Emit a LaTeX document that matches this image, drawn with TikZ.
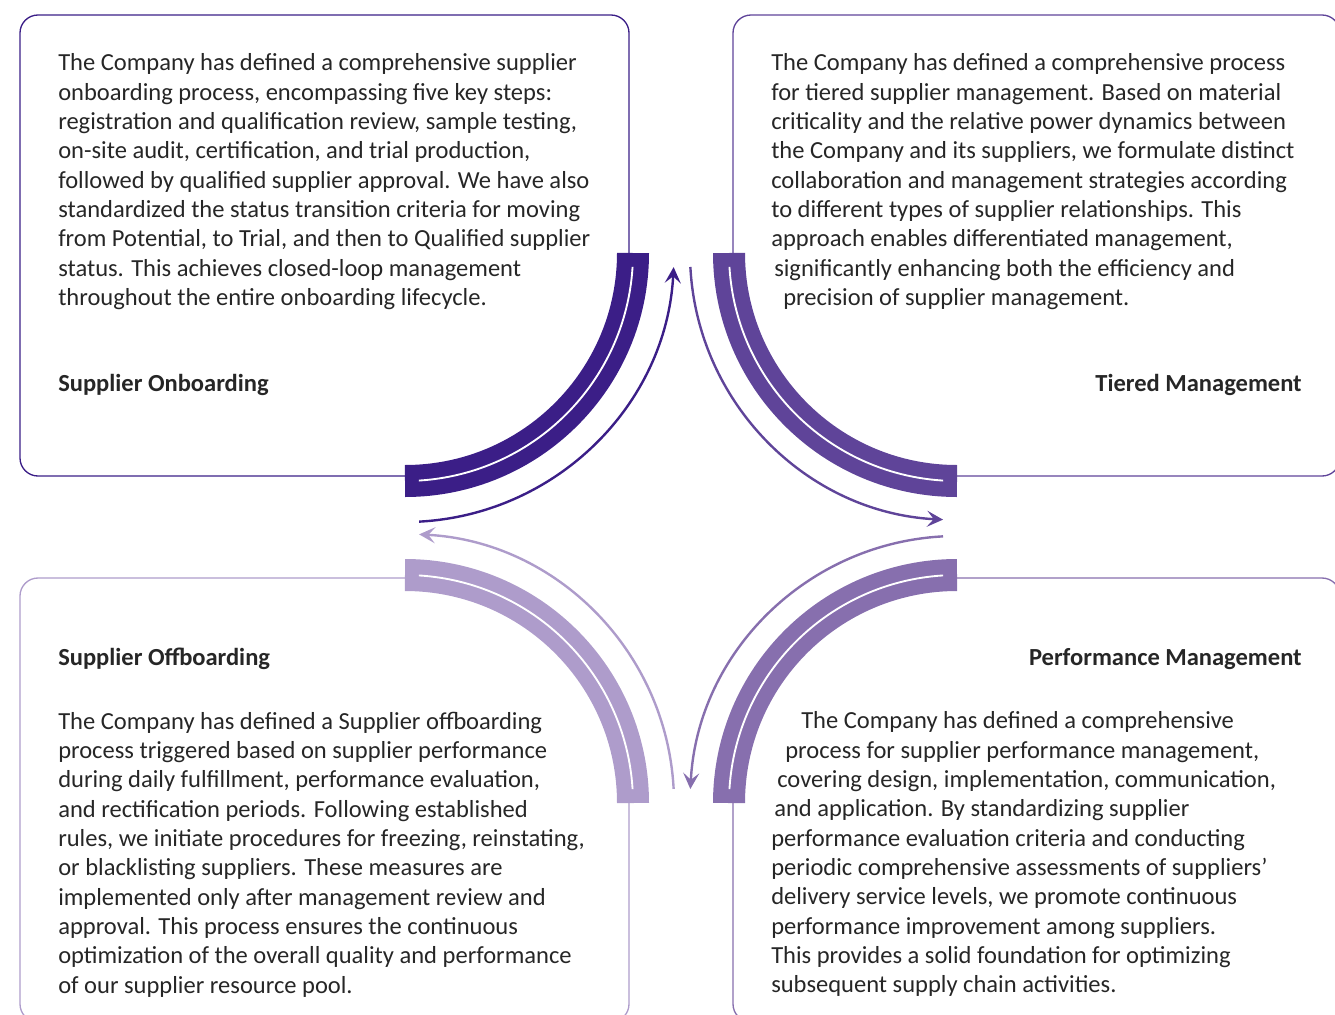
\documentclass[tikz,border=0pt]{standalone}
\usepackage{fontspec}
\setmainfont{Carlito}
\usetikzlibrary{arrows.meta,calc}
\definecolor{onbcol}{HTML}{3B1E87}
\definecolor{tiercol}{HTML}{5F4499}
\definecolor{perfcol}{HTML}{876FAE}
\definecolor{offcol}{HTML}{AE9CCB}
\definecolor{txt}{HTML}{262626}

\begin{document}
\begin{tikzpicture}[x=0.75pt,y=-0.75pt,
  frame/.style={line width=1pt,rounded corners=13.5pt},
  band/.style={line width=24pt},
  groove/.style={white,line width=1.4pt},
  flow/.style={line width=1.8pt,-{Stealth[length=12pt,width=12pt,inset=5pt]}},
  body/.style={anchor=north west,inner sep=0pt,align=left,text=txt,font=\fontsize{18.4}{22}\selectfont},
  title/.style={inner sep=0pt,text=txt,font=\fontsize{18.4}{22}\selectfont\bfseries}]
  \useasboundingbox (0,0) rectangle (1335,1014);
  \clip (0,0) rectangle (1335,1014);
  % centres of the four quarter bends
  \coordinate (cTL) at (405,253);
  \coordinate (cTR) at (957,253);
  \coordinate (cBR) at (957,803);
  \coordinate (cBL) at (405,803);

  % box outlines
  \draw[frame,onbcol]  (410,476) -- (20,476) -- (20,15) -- (629,15) -- (629,258);
  \draw[frame,tiercol] (733,258) -- (733,15) -- (1340,15) -- (1340,476) -- (952,476);
  \draw[frame,perfcol] (952,578) -- (1340,578) -- (1340,1022) -- (733,1022) -- (733,798);
  \draw[frame,offcol]  (629,798) -- (629,1022) -- (20,1022) -- (20,578) -- (410,578);

  % thick bends
  \draw[band,onbcol]  ([shift={(0:228)}]cTL) arc[start angle=0,end angle=90,radius=228];
  \draw[band,tiercol] ([shift={(90:228)}]cTR) arc[start angle=90,end angle=180,radius=228];
  \draw[band,perfcol] ([shift={(180:228)}]cBR) arc[start angle=180,end angle=270,radius=228];
  \draw[band,offcol]  ([shift={(270:228)}]cBL) arc[start angle=270,end angle=360,radius=228];
  \draw[groove] ([shift={(3.5:228)}]cTL) arc[start angle=3.5,end angle=86.5,radius=228];
  \draw[groove] ([shift={(93.5:228)}]cTR) arc[start angle=93.5,end angle=176.5,radius=228];
  \draw[groove] ([shift={(183.5:228)}]cBR) arc[start angle=183.5,end angle=266.5,radius=228];
  \draw[groove] ([shift={(273.5:228)}]cBL) arc[start angle=273.5,end angle=356.5,radius=228];

  % cycle arrows
  \draw[flow,onbcol]  ([shift={(87:269)}]cTL) arc[start angle=87,end angle=3,radius=269];
  \draw[flow,tiercol] ([shift={(177:267)}]cTR) arc[start angle=177,end angle=93,radius=267];
  \draw[flow,perfcol] ([shift={(-93:267)}]cBR) arc[start angle=-93,end angle=-177,radius=267];
  \draw[flow,offcol]  ([shift={(-3:269)}]cBL) arc[start angle=-3,end angle=-87,radius=269];

  % titles
  \node[title,anchor=base west] (onbtitle)  at (58,391)   {Supplier Onboarding};
  \node[title,anchor=base east] (tiertitle) at (1302,391) {Tiered Management};
  \node[title,anchor=base west] (offtitle)  at (58,665)   {Supplier Offboarding};
  \node[title,anchor=base east] (perftitle) at (1302,665) {Performance Management};

  % texts
  \node[body] (onbtext) at (58,53.5) {The Company has defined a comprehensive supplier\\
    onboarding process, encompassing five key steps:\\
    registration and qualification review, sample testing,\\
    on-site audit, certification, and trial production,\\
    followed by qualified supplier approval. We have also\\
    standardized the status transition criteria for moving\\
    from Potential, to Trial, and then to Qualified supplier\\
    status. This achieves closed-loop management\\
    throughout the entire onboarding lifecycle.};
  \node[body] (tiertext) at (771,53.5) {The Company has defined a comprehensive process\\
    for tiered supplier management. Based on material\\
    criticality and the relative power dynamics between\\
    the Company and its suppliers, we formulate distinct\\
    collaboration and management strategies according\\
    to different types of supplier relationships. This\\
    approach enables differentiated management,\\
    \hspace*{2.25pt}significantly enhancing both the efficiency and\\
    \hspace*{9pt}precision of supplier management.};
  \node[body] (offtext) at (58,711.5) {The Company has defined a Supplier offboarding\\
    process triggered based on supplier performance\\
    during daily fulfillment, performance evaluation,\\
    and rectification periods. Following established\\
    rules, we initiate procedures for freezing, reinstating,\\
    or blacklisting suppliers. These measures are\\
    implemented only after management review and\\
    approval. This process ensures the continuous\\
    optimization of the overall quality and performance\\
    of our supplier resource pool.};
  \node[body] (perftext) at (771,711.5) {\hspace*{22.5pt}The Company has defined a comprehensive\\
    \hspace*{10.5pt}process for supplier performance management,\\
    \hspace*{4.5pt}covering design, implementation, communication,\\
    \hspace*{2.25pt}and application. By standardizing supplier\\
    performance evaluation criteria and conducting\\
    periodic comprehensive assessments of suppliers'\\
    delivery service levels, we promote continuous\\
    performance improvement among suppliers.\\
    This provides a solid foundation for optimizing\\
    subsequent supply chain activities.};
\end{tikzpicture}
\end{document}
